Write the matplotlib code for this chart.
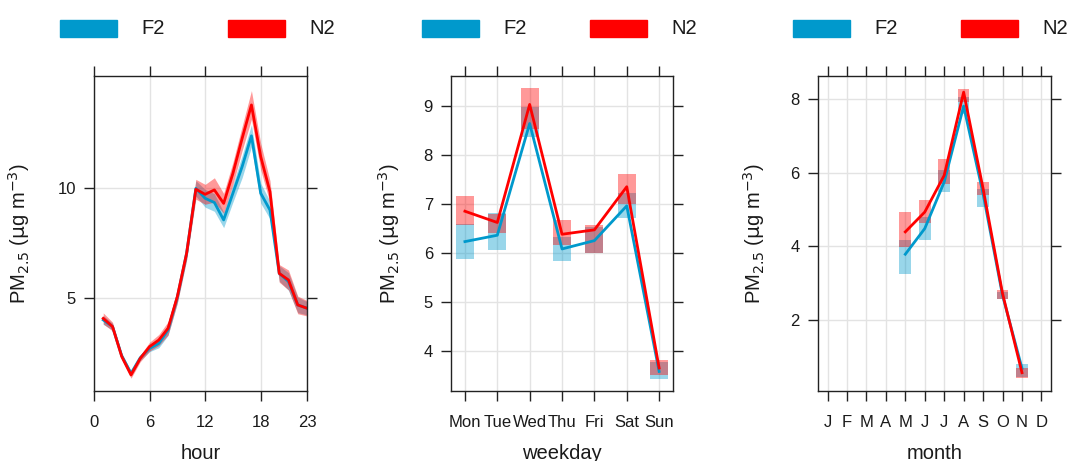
import matplotlib
matplotlib.use("Agg")
from matplotlib import pyplot as plt
from matplotlib.patches import Rectangle

# hourly means (hours 1-23) and half-widths of the confidence band
hours = list(range(1, 24))
f2_hour = [4.02, 3.72, 2.39, 1.60, 2.31, 2.73, 2.96, 3.57, 5.05, 7.04, 9.98, 9.53,
           9.34, 8.55, 9.76, 10.97, 12.36, 9.76, 9.00, 6.13, 5.76, 4.70, 4.55]
f2_hour_ci = [0.20, 0.15, 0.12, 0.12, 0.12, 0.15, 0.20, 0.25, 0.25, 0.30, 0.35, 0.40,
              0.40, 0.35, 0.40, 0.50, 0.50, 0.45, 0.40, 0.35, 0.40, 0.35, 0.30]
n2_hour = [4.09, 3.72, 2.36, 1.53, 2.28, 2.81, 3.11, 3.64, 5.08, 7.04, 9.94, 9.71,
           9.91, 9.30, 10.66, 12.25, 13.76, 11.42, 9.83, 6.13, 5.83, 4.70, 4.55]
n2_hour_ci = [0.25, 0.20, 0.15, 0.15, 0.15, 0.20, 0.25, 0.30, 0.30, 0.30, 0.45, 0.45,
              0.55, 0.45, 0.50, 0.55, 0.65, 0.60, 0.50, 0.40, 0.45, 0.40, 0.35]

# weekday
days = ["Mon", "Tue", "Wed", "Thu", "Fri", "Sat", "Sun"]
f2_day = [6.23, 6.36, 8.64, 6.08, 6.25, 6.96, 3.58]
f2_day_lo = [5.87, 6.05, 8.37, 5.84, 5.99, 6.72, 3.42]
f2_day_hi = [6.59, 6.81, 8.98, 6.33, 6.53, 7.22, 3.78]
n2_day = [6.85, 6.62, 9.03, 6.38, 6.47, 7.35, 3.65]
n2_day_lo = [6.57, 6.40, 8.52, 6.16, 6.00, 7.00, 3.50]
n2_day_hi = [7.16, 6.79, 9.37, 6.67, 6.57, 7.61, 3.82]

# month (data May - Nov)
month_labels = ["J", "F", "M", "A", "M", "J", "J", "A", "S", "O", "N", "D"]
months = [5, 6, 7, 8, 9, 10, 11]
f2_mon = [3.78, 4.48, 5.75, 7.82, 5.43, 2.66, 0.67]
f2_mon_lo = [3.25, 4.16, 5.48, 7.61, 5.07, 2.57, 0.44]
f2_mon_hi = [4.16, 4.80, 6.07, 8.06, 5.57, 2.75, 0.80]
n2_mon = [4.39, 4.93, 5.93, 8.20, 5.57, 2.71, 0.55]
n2_mon_lo = [3.98, 4.62, 5.70, 7.93, 5.39, 2.57, 0.40]
n2_mon_hi = [4.93, 5.25, 6.38, 8.29, 5.75, 2.80, 0.67]

blue = "#0099CC"
red = "#FF0000"
plt.rcParams['font.family'] = ['Liberation Sans', 'DejaVu Sans']

fig = plt.figure(figsize=(10.69, 4.61), dpi=100)
ax1 = fig.add_axes([0.0879, 0.1518, 0.1993, 0.6833])
ax2 = fig.add_axes([0.4219, 0.1518, 0.2077, 0.6833])
ax3 = fig.add_axes([0.7650, 0.1518, 0.2183, 0.6833])

ylab = r"PM$_{2.5}$ ($\mathrm{\mu}$g m$^{-3}$)"


def style(ax, xlabel, ylab_x):
    ax.grid(True, color="#E3E3E3", lw=1)
    ax.set_axisbelow(True)
    for s in ax.spines.values():
        s.set_color("#222222")
        s.set_linewidth(1)
    ax.tick_params(which="both", direction="out", length=7, width=1, color="#222222",
                   top=True, right=True, labelsize=12, labelcolor="#1a1a1a")
    ax.tick_params(axis="x", pad=10)
    ax.tick_params(axis="y", pad=6)
    ax.set_ylabel(ylab, fontsize=14.5, color="#1a1a1a")
    ax.set_xlabel(xlabel, fontsize=14.5, labelpad=10, color="#1a1a1a")
    ax.yaxis.set_label_coords(ylab_x, 0.5)


# hour panel
lo = [m - c for m, c in zip(f2_hour, f2_hour_ci)]
hi = [m + c for m, c in zip(f2_hour, f2_hour_ci)]
ax1.fill_between(hours, lo, hi, color=blue, alpha=0.4, lw=0)
lo = [m - c for m, c in zip(n2_hour, n2_hour_ci)]
hi = [m + c for m, c in zip(n2_hour, n2_hour_ci)]
ax1.fill_between(hours, lo, hi, color=red, alpha=0.4, lw=0)
ax1.plot(hours, f2_hour, color=blue, lw=2)
ax1.plot(hours, n2_hour, color=red, lw=2)
ax1.set_xlim(0, 23)
ax1.set_ylim(0.8, 15.07)
ax1.set_xticks([0, 6, 12, 18, 23])
ax1.set_yticks([5, 10])
style(ax1, "hour", -0.291)

# weekday panel
xd = list(range(len(days)))
ax2.bar(xd, [h - l for h, l in zip(f2_day_hi, f2_day_lo)], bottom=f2_day_lo,
        width=0.56, color=blue, alpha=0.4, lw=0)
ax2.bar(xd, [h - l for h, l in zip(n2_day_hi, n2_day_lo)], bottom=n2_day_lo,
        width=0.56, color=red, alpha=0.4, lw=0)
ax2.plot(xd, f2_day, color=blue, lw=2)
ax2.plot(xd, n2_day, color=red, lw=2)
ax2.set_xlim(-0.43, 6.43)
ax2.set_ylim(3.18, 9.61)
ax2.set_xticks(xd)
ax2.set_xticklabels(days)
ax2.set_yticks([4, 5, 6, 7, 8, 9])
style(ax2, "weekday", -0.221)

# month panel
ax3.bar(months, [h - l for h, l in zip(f2_mon_hi, f2_mon_lo)], bottom=f2_mon_lo,
        width=0.6, color=blue, alpha=0.4, lw=0)
ax3.bar(months, [h - l for h, l in zip(n2_mon_hi, n2_mon_lo)], bottom=n2_mon_lo,
        width=0.6, color=red, alpha=0.4, lw=0)
ax3.plot(months, f2_mon, color=blue, lw=2)
ax3.plot(months, n2_mon, color=red, lw=2)
ax3.set_xlim(0.5, 12.5)
ax3.set_ylim(0.05, 8.64)
ax3.set_xticks(range(1, 13))
ax3.set_xticklabels(month_labels)
ax3.set_yticks([2, 4, 6, 8])
style(ax3, "month", -0.218)

# legends above each panel
W, H = 1069.0, 461.0
for x0 in [60, 422, 793]:
    for dx, col, name in [(0, blue, "F2"), (168, red, "N2")]:
        fig.patches.append(Rectangle(((x0 + dx) / W, 1 - 37 / H), 57 / W, 17 / H,
                                     transform=fig.transFigure, color=col))
        fig.text((x0 + dx + 81) / W, 1 - 28 / H, name, fontsize=14.5, va="center",
                 color="#1a1a1a")

fig.savefig("out.png", dpi=100)
